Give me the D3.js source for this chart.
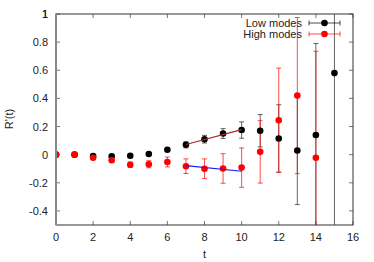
<!DOCTYPE html>
<html>
<head>
<meta charset="utf-8">
<script src="https://cdn.jsdelivr.net/npm/d3@7"></script>
<style>
  body { margin: 0; background: #fff; }
  svg { display: block; }
  text { font-family: "Liberation Sans", Arial, sans-serif; font-size: 11px; fill: #222; }
</style>
</head>
<body>
<svg id="chart" width="374" height="262"></svg>
<script>
// data
var lowT   = [0, 1, 2, 3, 4, 5, 6, 7, 8, 9, 10, 11, 12, 13, 14, 15];
var lowVal = [0, 0, -0.01, -0.012, -0.008, 0.005, 0.035, 0.07, 0.11, 0.15, 0.175, 0.17, 0.115, 0.03, 0.14, 0.58];
var lowErr = [0, 0, 0.005, 0.005, 0.005, 0.007, 0.012, 0.022, 0.027, 0.035, 0.058, 0.115, 0.24, 0.385, 0.65, 2.0];

var highT   = [0, 1, 2, 3, 4, 5, 6, 7, 8, 9, 10, 11, 12, 13, 14];
var highVal = [0, 0, -0.022, -0.04, -0.072, -0.068, -0.052, -0.082, -0.1, -0.098, -0.092, 0.02, 0.245, 0.42, -0.022];
var highErr = [0, 0, 0.01, 0.015, 0.02, 0.025, 0.035, 0.052, 0.07, 0.105, 0.14, 0.222, 0.37, 0.555, 0.757];

var lowFitT = [7, 10], lowFitVal = [0.072, 0.178];
var highFitT = [7, 10], highFitVal = [-0.078, -0.118];

var xTicks = [0, 2, 4, 6, 8, 10, 12, 14, 16];
var yTicks = [-0.4, -0.2, 0, 0.2, 0.4, 0.6, 0.8, 1];
var seriesNames = ["Low modes", "High modes"];

var svg = d3.select("#chart");
var L = 56, R = 353, T = 14, B = 225;

var x = d3.scaleLinear().domain([0, 16]).range([L, R]);
var y = d3.scaleLinear().domain([-0.5, 1]).range([B, T]);

var fmt = function(d) { return d3.format("")(d).replace("\u2212", "-"); };

svg.append("clipPath").attr("id", "clip")
  .append("rect").attr("x", L).attr("y", T).attr("width", R - L).attr("height", B - T);

// ticks (inward, mirrored)
var tk = svg.append("g").attr("stroke", "#777").attr("stroke-width", 1);
xTicks.forEach(function(d) {
  tk.append("line").attr("x1", x(d)).attr("x2", x(d)).attr("y1", B).attr("y2", B - 4);
  tk.append("line").attr("x1", x(d)).attr("x2", x(d)).attr("y1", T).attr("y2", T + 4);
});
yTicks.forEach(function(d) {
  tk.append("line").attr("x1", L).attr("x2", L + 4).attr("y1", y(d)).attr("y2", y(d));
  tk.append("line").attr("x1", R).attr("x2", R - 4).attr("y1", y(d)).attr("y2", y(d));
});

svg.append("g").selectAll("text").data(xTicks).join("text")
  .attr("x", function(d) { return x(d); }).attr("y", 241)
  .attr("text-anchor", "middle").text(fmt);
svg.append("g").selectAll("text").data(yTicks.concat([1])).join("text")
  .attr("x", 48).attr("y", function(d) { return y(d) + 4; })
  .attr("text-anchor", "end").text(fmt);

svg.append("text").attr("x", x(8)).attr("y", 258).attr("text-anchor", "middle").text("t");
svg.append("text").attr("transform", "translate(13," + 119 + ") rotate(-90)")
  .attr("text-anchor", "middle").text("R'(t)");

var plot = svg.append("g").attr("clip-path", "url(#clip)");

function errBars(ts, vals, errs, col, op) {
  var g = plot.append("g").attr("stroke", col).attr("stroke-opacity", op).attr("stroke-width", 1);
  ts.forEach(function(t, i) {
    if (!errs[i]) return;
    var cx = x(t), y1 = y(vals[i] - errs[i]), y2 = y(vals[i] + errs[i]);
    g.append("line").attr("x1", cx).attr("x2", cx).attr("y1", y1).attr("y2", y2);
    g.append("line").attr("x1", cx - 2.5).attr("x2", cx + 2.5).attr("y1", y1).attr("y2", y1);
    g.append("line").attr("x1", cx - 2.5).attr("x2", cx + 2.5).attr("y1", y2).attr("y2", y2);
  });
}
function dots(ts, vals, col) {
  plot.append("g").selectAll("circle").data(ts).join("circle")
    .attr("cx", function(d) { return x(d); })
    .attr("cy", function(d, i) { return y(vals[i]); })
    .attr("r", 3.3).attr("fill", col);
}

errBars(lowT, lowVal, lowErr, "#000", 0.6);
errBars(highT, highVal, highErr, "#f00", 0.7);
dots(lowT, lowVal, "#000");
dots(highT, highVal, "#f00");

var line = d3.line().x(function(d) { return x(d[0]); }).y(function(d) { return y(d[1]); });
plot.append("path").datum(d3.zip(lowFitT, lowFitVal)).attr("d", line)
  .attr("fill", "none").attr("stroke", "#a52a2a").attr("stroke-width", 1.2);
plot.append("path").datum(d3.zip(highFitT, highFitVal)).attr("d", line)
  .attr("fill", "none").attr("stroke", "#1a1aff").attr("stroke-width", 1.2);

// frame
svg.append("rect").attr("x", L).attr("y", T).attr("width", R - L).attr("height", B - T)
  .attr("fill", "none").attr("stroke", "#333").attr("stroke-width", 1);
svg.append("line").attr("x1", L).attr("x2", L).attr("y1", T).attr("y2", B)
  .attr("stroke", "#888").attr("stroke-width", 2);

// legend
var legCols = ["#000", "#f00"];
seriesNames.forEach(function(name, i) {
  var ly = 23 + i * 11;
  svg.append("text").attr("x", 302).attr("y", ly + 4).attr("text-anchor", "end").text(name);
  var g = svg.append("g").attr("stroke", legCols[i]).attr("stroke-opacity", 0.7);
  g.append("line").attr("x1", 309).attr("x2", 340).attr("y1", ly).attr("y2", ly);
  g.append("line").attr("x1", 309).attr("x2", 309).attr("y1", ly - 2.5).attr("y2", ly + 2.5);
  g.append("line").attr("x1", 340).attr("x2", 340).attr("y1", ly - 2.5).attr("y2", ly + 2.5);
  svg.append("circle").attr("cx", 324.5).attr("cy", ly).attr("r", 3.3).attr("fill", legCols[i]);
});
</script>
</body>
</html>
